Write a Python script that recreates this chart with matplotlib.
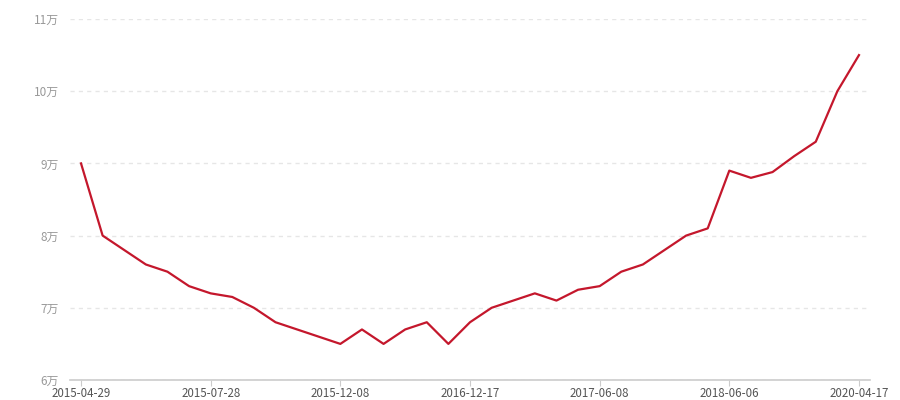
import matplotlib
matplotlib.use('Agg')
from matplotlib import pyplot as plt

plt.rcParams['font.family'] = ['Noto Sans CJK SC', 'DejaVu Sans']

# values in 万 (10k), evenly spaced category points
values = [9.0, 8.0, 7.8, 7.6, 7.5, 7.3, 7.2, 7.15, 7.0, 6.8, 6.7, 6.6,
          6.5, 6.7, 6.5, 6.7, 6.8, 6.5, 6.8, 7.0, 7.1, 7.2, 7.1, 7.25,
          7.3, 7.5, 7.6, 7.8, 8.0, 8.1, 8.9, 8.8, 8.88, 9.1, 9.3, 10.0, 10.5]
tick_labels = ['2015-04-29', '2015-07-28', '2015-12-08', '2016-12-17',
               '2017-06-08', '2018-06-06', '2020-04-17']
tick_step = 6
y_ticks = [6, 7, 8, 9, 10, 11]

fig = plt.figure(figsize=(9, 4), dpi=100, facecolor='w')
ax = fig.add_axes([70 / 900, 1 - 380 / 400, 800 / 900, 361 / 400])

ax.plot(range(len(values)), values, color='#c4172c', linewidth=1.6)

ax.set_xlim(-0.51, len(values) - 1 + 0.51)
ax.set_ylim(6, 11)

ax.set_xticks([i * tick_step for i in range(len(tick_labels))])
ax.set_xticklabels(tick_labels, fontsize=8.3, color='#555555')
ax.set_yticks(y_ticks)
ax.set_yticklabels([str(v) + '万' for v in y_ticks], fontsize=8.5, color='#999999')

ax.grid(axis='y', color='#e6e6e6', linestyle=(0, (3, 3)), linewidth=1)
ax.set_axisbelow(True)
for side in ['top', 'right', 'left']:
    ax.spines[side].set_visible(False)
ax.spines['bottom'].set_color('#cccccc')
ax.spines['bottom'].set_linewidth(1.2)
ax.tick_params(axis='x', length=4, color='#cccccc', pad=1)
ax.tick_params(axis='y', length=0, pad=8)

plt.savefig('out.png', dpi=100)
